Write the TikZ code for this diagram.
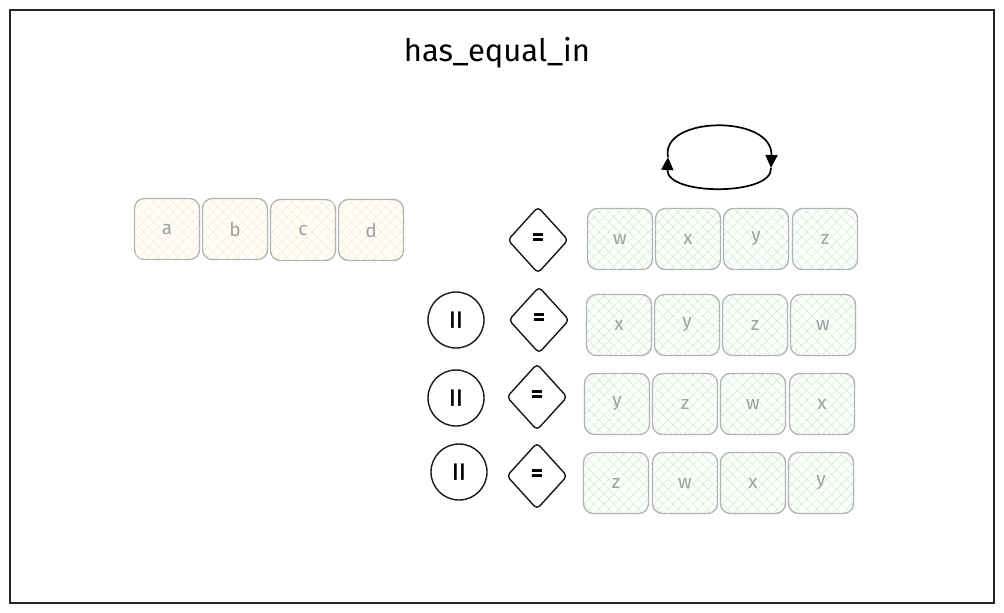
\documentclass[tikz,border=0pt]{standalone}
\usepackage{fontspec}
\setmainfont{Fira Sans}
\usetikzlibrary{patterns.meta,arrows.meta}
\definecolor{edgegray}{HTML}{B0B0B0}
\definecolor{txtgray}{HTML}{A0A0A0}
\definecolor{hatchy}{HTML}{FAEEBB}
\definecolor{hatchg}{HTML}{C8EDCE}
\tikzset{
  cell/.style={draw=edgegray, line width=1.3pt, rounded corners=10pt, minimum width=65pt, minimum height=61pt, inner sep=0pt, text=txtgray, font=\fontsize{19}{19}\selectfont},
  ycell/.style={cell, preaction={pattern={Lines[angle=45,distance=7pt,line width=0.5pt]}, pattern color=hatchy}, postaction={pattern={Lines[angle=-45,distance=7pt,line width=0.5pt]}, pattern color=hatchy}},
  gcell/.style={cell, preaction={pattern={Lines[angle=45,distance=7pt,line width=0.5pt]}, pattern color=hatchg}, postaction={pattern={Lines[angle=-45,distance=7pt,line width=0.5pt]}, pattern color=hatchg}},
  eqdia/.style={draw=black!90, line width=1.4pt, rounded corners=4pt},
  symtxt/.style={font=\fontsize{24}{24}\selectfont\bfseries, inner sep=0pt},
  orcirc/.style={circle, draw=black!90, line width=1.4pt, minimum size=56pt, inner sep=0pt, font=\fontsize{18}{18}\selectfont\bfseries},
  loop/.style={line width=1.7pt, -{Triangle[length=13pt,width=12pt]}}
}
\begin{document}
\begin{tikzpicture}[x=1pt,y=-1pt]
\useasboundingbox (0,0) rectangle (1004,613);
\fill[white] (0,0) rectangle (1004,613);
\node[draw=black!85, line width=1.2pt, minimum width=984pt, minimum height=593pt, inner sep=0pt] (frame) at (502,306.5) {};
\node[font=\fontsize{31}{31}\selectfont] (title) at (497,53) {has\_equal\_in};
% left row
\node[ycell] (a) at (167,229) {a};
\node[ycell] (b) at (235,229) {b};
\node[ycell] (c) at (303,230) {c};
\node[ycell] (d) at (371,230) {d};
% right rows
\node[gcell] (r1a) at (620,239) {w};
\node[gcell] (r1b) at (688,239) {x};
\node[gcell] (r1c) at (756,239) {y};
\node[gcell] (r1d) at (825,239) {z};
\node[gcell] (r2a) at (619,325) {x};
\node[gcell] (r2b) at (687,325) {y};
\node[gcell] (r2c) at (755,325) {z};
\node[gcell] (r2d) at (823,325) {w};
\node[gcell] (r3a) at (617,404) {y};
\node[gcell] (r3b) at (685,404) {z};
\node[gcell] (r3c) at (753,404) {w};
\node[gcell] (r3d) at (822,404) {x};
\node[gcell] (r4a) at (616,483) {z};
\node[gcell] (r4b) at (685,483) {w};
\node[gcell] (r4c) at (753,483) {x};
\node[gcell] (r4d) at (821,483) {y};
% diamonds
\foreach \n/\x/\y in {d1/538/240, d2/539/320, d3/537/397, d4/537/476}{
  \draw[eqdia] (\x-30,\y) -- (\x,\y-33) -- (\x+30,\y) -- (\x,\y+33) -- cycle;
  \node[symtxt] (\n) at (\x,\y) {=};
}
% circles
\node[orcirc] (o2) at (456,320) {||};
\node[orcirc] (o3) at (456,398) {||};
\node[orcirc] (o4) at (459,472) {||};
% loop
\coordinate (lp) at (668,157);
\coordinate (rp) at (771,168);
\draw[loop] (lp) .. controls (660,116) and (773,114) .. (rp);
\draw[loop] (rp) .. controls (773,196) and (666,196) .. (lp);
\end{tikzpicture}
\end{document}
